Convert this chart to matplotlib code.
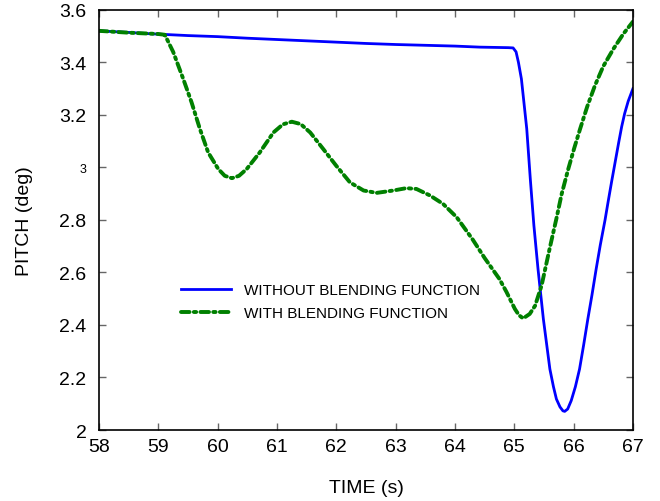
import matplotlib
matplotlib.use("Agg")
import matplotlib.pyplot as plt

plt.rcParams['font.family'] = ['Liberation Sans', 'DejaVu Sans']

# Series without blending function (blue)
t_without = [58.0, 58.5, 58.86, 59.5, 60.0, 60.5, 61.0, 61.5, 62.0, 62.5, 63.0, 63.5,
             64.0, 64.42, 64.9, 64.98, 65.03, 65.07, 65.12, 65.21, 65.27, 65.33, 65.40,
             65.49, 65.60, 65.66, 65.71, 65.77, 65.82, 65.85, 65.9, 65.96, 66.03, 66.1,
             66.17, 66.24, 66.31, 66.38, 66.45, 66.53, 66.58, 66.64, 66.70, 66.76, 66.81,
             66.86, 66.92, 67.0]
p_without = [3.52, 3.514, 3.509, 3.502, 3.498, 3.492, 3.487, 3.482, 3.477, 3.472, 3.468, 3.465,
             3.462, 3.458, 3.456, 3.455, 3.44, 3.40, 3.337, 3.147, 2.956, 2.78, 2.613,
             2.423, 2.232, 2.165, 2.118, 2.088, 2.073, 2.071, 2.08, 2.112, 2.165, 2.232,
             2.325, 2.423, 2.515, 2.613, 2.705, 2.80, 2.867, 2.945, 3.02, 3.095, 3.155,
             3.205, 3.252, 3.30]

# Series with blending function (green)
t_with = [58.0, 58.5, 59.0, 59.11, 59.25, 59.42, 59.56, 59.70, 59.84, 60.01, 60.12, 60.24,
          60.36, 60.49, 60.71, 60.94, 61.1, 61.25, 61.4, 61.56, 61.78, 62.0, 62.23, 62.46,
          62.68, 62.96, 63.18, 63.35, 63.58, 63.80, 64.03, 64.3, 64.5, 64.75, 64.87, 65.01,
          65.08, 65.15, 65.26, 65.35, 65.46, 65.60, 65.71, 65.80, 65.91, 66.01, 66.11, 66.23,
          66.36, 66.5, 66.67, 66.84, 67.0]
p_with = [3.52, 3.513, 3.508, 3.505, 3.44, 3.337, 3.248, 3.147, 3.057, 2.994, 2.968, 2.959,
          2.968, 2.994, 3.057, 3.133, 3.164, 3.174, 3.165, 3.133, 3.07, 3.006, 2.943, 2.912,
          2.903, 2.912, 2.921, 2.918, 2.893, 2.861, 2.81, 2.725, 2.655, 2.575, 2.525, 2.461,
          2.437, 2.425, 2.442, 2.473, 2.55, 2.695, 2.805, 2.90, 2.994, 3.073, 3.147, 3.232,
          3.312, 3.385, 3.451, 3.509, 3.555]

x_ticks = [58, 59, 60, 61, 62, 63, 64, 65, 66, 67]
y_ticks = [2.0, 2.2, 2.4, 2.6, 2.8, 3.0, 3.2, 3.4, 3.6]
y_tick_labels = ['2', '2.2', '2.4', '2.6', '2.8', '3', '3.2', '3.4', '3.6']

fig = plt.figure(figsize=(6.6, 5.02), dpi=100)
ax = fig.add_axes([0.150, 0.1414, 0.809, 0.837])

ax.plot(t_without, p_without, color='#0000ff', lw=2.0, label='WITHOUT BLENDING FUNCTION')
ax.plot(t_with, p_with, color='#008000', lw=2.8, linestyle=(0, (2.2, 1.1, 0.6, 1.1)),
        dash_capstyle='round', label='WITH BLENDING FUNCTION')

ax.set_xlim(58, 67)
ax.set_ylim(2.0, 3.6)
ax.set_xticks(x_ticks)
ax.set_xticklabels([str(v) for v in x_ticks])
ax.set_yticks(y_ticks)
ax.set_yticklabels(y_tick_labels)
ax.tick_params(axis='both', direction='in', length=5, width=1, color='#666666',
               labelsize=14, top=True, right=True)
ax.tick_params(axis='x', pad=6)
ax.tick_params(axis='y', pad=9)
for lbl in ax.get_yticklabels():
    if lbl.get_text() == '3':
        lbl.set_fontsize(9)
for s in ax.spines.values():
    s.set_linewidth(1.2)

ax.set_xlabel('TIME (s)', fontsize=14, labelpad=17)
ax.set_ylabel('PITCH (deg)', fontsize=14, labelpad=19)

leg = ax.legend(loc='upper left', bbox_to_anchor=(0.127, 0.382), frameon=False,
                fontsize=11, handlelength=3.3, handletextpad=0.85, labelspacing=0.6)

fig.savefig('out.png', dpi=100)
